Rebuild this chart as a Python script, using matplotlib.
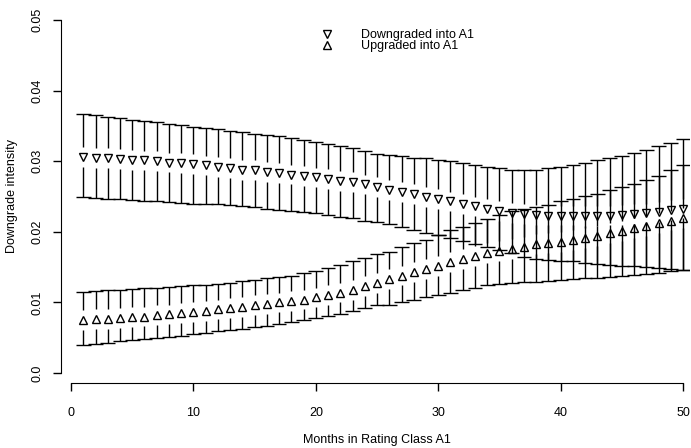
import matplotlib
matplotlib.use("Agg")
import matplotlib.pyplot as plt
import numpy as np

plt.rcParams['font.family'] = ['Liberation Sans', 'DejaVu Sans']

# meses na classe A1
months = np.arange(1, 51)

# intensidade de downgrade - vindos de rebaixamento
down = [0.0306, 0.0305, 0.0304, 0.0303, 0.0302, 0.0301, 0.0300, 0.0298, 0.0297, 0.0296,
        0.0294, 0.0292, 0.0290, 0.0288, 0.0287, 0.0285, 0.0283, 0.0281, 0.0279, 0.0277,
        0.0275, 0.0272, 0.0270, 0.0267, 0.0263, 0.0259, 0.0256, 0.0253, 0.0249, 0.0246,
        0.0243, 0.0239, 0.0236, 0.0232, 0.0229, 0.0227, 0.0225, 0.0224, 0.0223, 0.0223,
        0.0223, 0.0222, 0.0222, 0.0223, 0.0224, 0.0225, 0.0226, 0.0228, 0.0231, 0.0233]
down_hi = [0.0367, 0.0365, 0.0363, 0.0361, 0.0359, 0.0357, 0.0355, 0.0353, 0.0351, 0.0349,
           0.0347, 0.0345, 0.0343, 0.0341, 0.0339, 0.0337, 0.0335, 0.0333, 0.0330, 0.0327,
           0.0324, 0.0321, 0.0318, 0.0314, 0.0310, 0.0309, 0.0307, 0.0305, 0.0304, 0.0302,
           0.0300, 0.0297, 0.0295, 0.0292, 0.0290, 0.0288, 0.0287, 0.0288, 0.0290, 0.0292,
           0.0295, 0.0298, 0.0301, 0.0304, 0.0308, 0.0312, 0.0316, 0.0321, 0.0326, 0.0331]
down_lo = [0.0249, 0.0248, 0.0247, 0.0246, 0.0245, 0.0244, 0.0243, 0.0242, 0.0241, 0.0240,
           0.0239, 0.0239, 0.0238, 0.0236, 0.0235, 0.0233, 0.0231, 0.0230, 0.0228, 0.0226,
           0.0224, 0.0221, 0.0219, 0.0216, 0.0214, 0.0211, 0.0207, 0.0203, 0.0199, 0.0195,
           0.0191, 0.0187, 0.0183, 0.0179, 0.0174, 0.0170, 0.0165, 0.0162, 0.0160, 0.0159,
           0.0158, 0.0156, 0.0155, 0.0153, 0.0152, 0.0151, 0.0150, 0.0149, 0.0147, 0.0146]

# vindos de upgrade
up = [0.0075, 0.0076, 0.0077, 0.0078, 0.0079, 0.0080, 0.0082, 0.0083, 0.0085, 0.0086,
      0.0088, 0.0090, 0.0092, 0.0094, 0.0096, 0.0098, 0.0100, 0.0102, 0.0104, 0.0107,
      0.0110, 0.0114, 0.0118, 0.0123, 0.0128, 0.0133, 0.0138, 0.0143, 0.0147, 0.0152,
      0.0157, 0.0161, 0.0166, 0.0170, 0.0173, 0.0176, 0.0179, 0.0183, 0.0184, 0.0186,
      0.0188, 0.0191, 0.0194, 0.0198, 0.0201, 0.0205, 0.0208, 0.0212, 0.0216, 0.0220]
up_hi = [0.0115, 0.0116, 0.0117, 0.0118, 0.0119, 0.0120, 0.0121, 0.0122, 0.0123, 0.0124,
         0.0125, 0.0126, 0.0128, 0.0130, 0.0132, 0.0134, 0.0136, 0.0138, 0.0141, 0.0145,
         0.0149, 0.0153, 0.0158, 0.0163, 0.0168, 0.0172, 0.0178, 0.0184, 0.0189, 0.0195,
         0.0202, 0.0207, 0.0213, 0.0218, 0.0224, 0.0229, 0.0233, 0.0235, 0.0238, 0.0243,
         0.0246, 0.0250, 0.0254, 0.0259, 0.0263, 0.0268, 0.0273, 0.0279, 0.0287, 0.0295]
up_lo = [0.0039, 0.0041, 0.0043, 0.0045, 0.0047, 0.0048, 0.0050, 0.0051, 0.0053, 0.0055,
         0.0057, 0.0059, 0.0061, 0.0063, 0.0065, 0.0067, 0.0070, 0.0072, 0.0075, 0.0078,
         0.0081, 0.0084, 0.0088, 0.0092, 0.0096, 0.0097, 0.0100, 0.0104, 0.0107, 0.0110,
         0.0114, 0.0118, 0.0121, 0.0125, 0.0126, 0.0128, 0.0129, 0.0129, 0.0131, 0.0132,
         0.0133, 0.0134, 0.0135, 0.0136, 0.0138, 0.0139, 0.0140, 0.0142, 0.0144, 0.0146]

yticks = [0.0, 0.01, 0.02, 0.03, 0.04, 0.05]
ytick_labels = ['0.0', '0.01', '0.02', '0.03', '0.04', '0.05']
xticks = [0, 10, 20, 30, 40, 50]

fig = plt.figure(figsize=(6.91, 4.48), dpi=100)
ax = fig.add_axes([61 / 691, 1 - 383 / 448, 629 / 691, 373 / 448])

gap = 0.0014   # espaço em volta do marcador
cap = 0.6      # meia largura da barra


def plot_ci(x, y, lo, hi, marker, label):
    y = np.asarray(y)
    ax.vlines(x, y + gap, hi, color='black', lw=1)
    ax.vlines(x, lo, y - gap, color='black', lw=1)
    ax.hlines(hi, x - cap, x + cap, color='black', lw=1)
    ax.hlines(lo, x - cap, x + cap, color='black', lw=1)
    ax.plot(x, y, linestyle='none', marker=marker, ms=5.3, mfc='none',
            mec='black', mew=1, label=label)


plot_ci(months, down, down_lo, down_hi, 'v', 'Downgraded into A1')
plot_ci(months, up, up_lo, up_hi, '^', 'Upgraded into A1')

ax.set_xlim(-0.82, 50.57)
ax.set_ylim(-0.00142, 0.05142)
for s in ['top', 'right']:
    ax.spines[s].set_visible(False)
ax.spines['left'].set_bounds(0, 0.05)
ax.spines['bottom'].set_bounds(0, 50)

ax.set_xticks(xticks)
ax.set_yticks(yticks)
ax.set_yticklabels(ytick_labels, rotation=90, va='center')
ax.tick_params(axis='x', length=6, width=1, pad=11, labelsize=9)
ax.tick_params(axis='y', length=6, width=1, pad=6.3, labelsize=9)

ax.set_xlabel('Months in Rating Class A1', fontsize=9)
ax.xaxis.set_label_coords(0.5024, -0.1528)
ax.xaxis.label.set_va('center')
ax.set_ylabel('Downgrade intensity', fontsize=9)
ax.yaxis.set_label_coords(-0.0779, 0.501)
ax.yaxis.label.set_va('center')
ax.yaxis.label.set_ha('center')

ax.legend(loc='upper left', bbox_to_anchor=(321 / 691, 1 - 29 / 448),
          bbox_transform=fig.transFigure, frameon=False, fontsize=9,
          handlelength=1.0, handletextpad=2.2, labelspacing=-0.05,
          borderpad=0, borderaxespad=0)

fig.savefig('out.png', dpi=100)
